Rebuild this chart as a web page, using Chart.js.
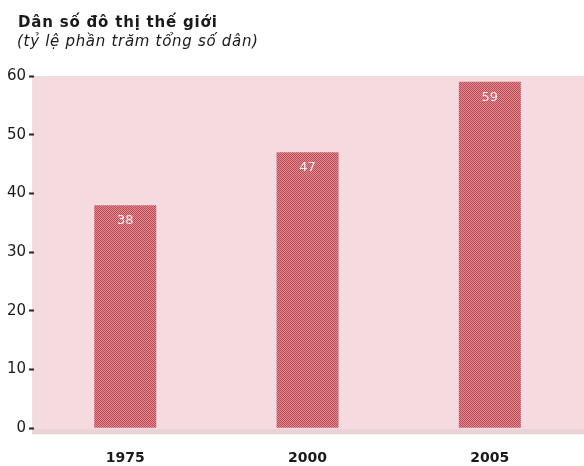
<!DOCTYPE html>
<html>
<head>
<meta charset="utf-8">
<script src="https://cdn.jsdelivr.net/npm/chart.js@4/dist/chart.umd.min.js"></script>
<style>
  html, body { margin: 0; padding: 0; background: #ffffff; }
  #wrap { width: 584px; height: 466px; position: relative; }
</style>
</head>
<body>
<div id="wrap"><canvas id="c" width="584" height="466"></canvas></div>
<script>
// Urban share of world population, percent
const years = ['1975', '2000', '2005'];
const urbanShare = [38, 47, 59];
const yTicks = [0, 10, 20, 30, 40, 50, 60];

const titleText = 'Dân số đô thị thế giới';
const subtitleText = '(tỷ lệ phần trăm tổng số dân)';

const FONT = '"DejaVu Sans", "Liberation Sans", Arial, sans-serif';

// Dotted screen fill for the bars
function makeBarPattern() {
  const p = document.createElement('canvas');
  p.width = 2; p.height = 2;
  const g = p.getContext('2d');
  g.fillStyle = '#e48c92';
  g.fillRect(0, 0, 2, 2);
  g.fillStyle = '#b84a56';
  g.fillRect(0, 0, 1, 1);
  g.fillRect(1, 1, 1, 1);
  return g.createPattern(p, 'repeat');
}

// Heading block: bold title with an italic note beneath it
const heading = {
  id: 'heading',
  afterDraw(chart) {
    const { ctx } = chart;
    ctx.save();
    ctx.fillStyle = '#1a1a1a';
    ctx.textAlign = 'left';
    ctx.textBaseline = 'alphabetic';
    ctx.font = 'bold 15px ' + FONT;
    ctx.letterSpacing = '0.8px';
    ctx.fillText(titleText, 18, 27);
    ctx.font = 'italic 15px ' + FONT;
    ctx.letterSpacing = '0.7px';
    ctx.fillText(subtitleText, 17, 46);
    ctx.restore();
  }
};

// Pink panel behind the plot, running to the right edge of the canvas
const panelBg = {
  id: 'panelBg',
  beforeDraw(chart) {
    const { ctx, chartArea } = chart;
    ctx.save();
    ctx.fillStyle = '#f5dae0';
    ctx.fillRect(chartArea.left - 2, chartArea.top, chart.width - chartArea.left + 2, chartArea.bottom - chartArea.top + 6);
    ctx.fillStyle = '#e8d3d5';
    ctx.fillRect(chartArea.left - 2, chartArea.bottom + 1, chart.width - chartArea.left + 2, 5);
    ctx.restore();
  }
};

// Value printed inside the top of each bar
const barValues = {
  id: 'barValues',
  afterDatasetsDraw(chart) {
    const { ctx } = chart;
    const meta = chart.getDatasetMeta(0);
    ctx.save();
    ctx.font = '13px ' + FONT;
    ctx.fillStyle = '#fbeef0';
    ctx.textAlign = 'center';
    ctx.textBaseline = 'top';
    meta.data.forEach((bar, i) => {
      ctx.fillText(String(urbanShare[i]), bar.x, bar.y + 9);
    });
    ctx.restore();
  }
};

new Chart(document.getElementById('c'), {
  type: 'bar',
  data: {
    labels: years,
    datasets: [{
      data: urbanShare,
      backgroundColor: makeBarPattern(),
      borderWidth: 0,
      barPercentage: 0.34,
      categoryPercentage: 1
    }]
  },
  options: {
    responsive: false,
    animation: false,
    devicePixelRatio: 1,
    layout: { padding: { left: 4, right: 3, top: 76, bottom: -23 } },
    plugins: {
      legend: { display: false },
      tooltip: { enabled: false },
      title: { display: false }
    },
    scales: {
      x: {
        grid: { display: false, drawTicks: false },
        border: { display: false },
        ticks: {
          color: '#1a1a1a',
          padding: 22,
          font: { family: FONT, size: 14, weight: 'bold' }
        }
      },
      y: {
        min: 0,
        max: 60,
        afterBuildTicks(scale) { scale.ticks = yTicks.map(v => ({ value: v })); },
        grid: { drawOnChartArea: false, tickLength: 5, color: '#222222', tickWidth: 2 },
        border: { display: false },
        ticks: {
          color: '#1a1a1a',
          padding: 3,
          font: { family: FONT, size: 15 }
        }
      }
    }
  },
  plugins: [panelBg, barValues, heading]
});
</script>
</body>
</html>
